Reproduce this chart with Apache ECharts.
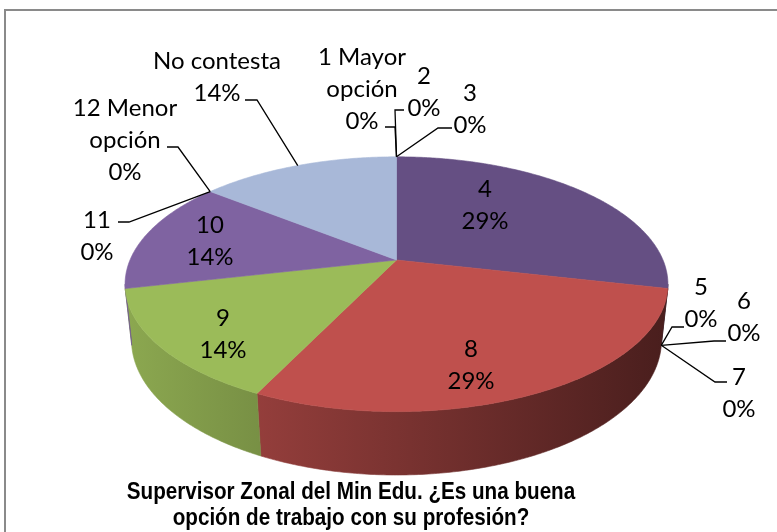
<!DOCTYPE html>
<html>
<head>
<meta charset="utf-8">
<script src="https://cdn.jsdelivr.net/npm/echarts@6/dist/echarts.min.js"></script>
<style>
html,body{margin:0;padding:0;background:#fff;}
#chart{width:777px;height:532px;}
</style>
</head>
<body>
<div id="chart"></div>
<script>
// ---- data ----
const categories = ['1 Mayor opción', '2', '3', '4', '5', '6', '7', '8', '9', '10', '11', '12 Menor opción', 'No contesta'];
const counts = [0, 0, 0, 2, 0, 0, 0, 2, 1, 1, 0, 0, 1];
const titleLines = ['Supervisor Zonal del Min Edu. ¿Es una buena', 'opción de trabajo con su profesión?'];

// ---- styles ----
const sliceColors = ['#4F81BD', '#C0504D', '#9BBB59', '#654F83', '#4BACC6', '#F79646', '#2C4D75',
                     '#BF504D', '#9BBB59', '#7F63A1', '#276A7C', '#B65708', '#A8B8D8'];
const labelFont = '24px Lato, "Open Sans", sans-serif';
// label layout (text centre + leader elbow points); anchor point comes from the pie geometry
const labelLayout = [
  {pos: [362, 89], leader: [[385, 127], [395, 127]]},
  {pos: [424, 92], leader: [[404, 110], [395, 110]]},
  {pos: [470, 109], leader: [[452, 128], [438, 128]]},
  {pos: [485, 205]},
  {pos: [701, 303], leader: [[684, 327], [672, 327]], bottom: true},
  {pos: [744, 317], leader: [[726, 341], [714, 341]], bottom: true},
  {pos: [739, 393], leader: [[727, 382], [715, 382]], bottom: true},
  {pos: [471, 365]},
  {pos: [223, 334]},
  {pos: [210, 241]},
  {pos: [97, 236], leader: [[118, 222], [129, 222]]},
  {pos: [125, 140], leader: [[167, 147], [178, 147]]},
  {pos: [217, 77], leader: [[245, 100], [257, 100]]}
];

// ---- 3D projection of the pie ----
const P = {cx: 396.5, cy: 260, sinP: 0.4608, cosP: 0.8875, D: 4.671, f: 1244.8, h: 0.2385};
function proj(theta, r, Y) {
  const X = r * Math.sin(theta), Z = r * Math.cos(theta);
  const yp = Y * P.cosP + Z * P.sinP;
  const zp = P.D - Y * P.sinP + Z * P.cosP;
  return [P.cx + P.f * X / zp, P.cy - P.f * yp / zp];
}
const total = counts.reduce((a, b) => a + b, 0);
const startAngles = [];
let acc = 0;
counts.forEach(v => { startAngles.push(acc / total * Math.PI * 2); acc += v; });
const thR = Math.acos(-P.cosP / P.D);
const thL = Math.PI * 2 - thR;

function hexToRgb(h) { return [parseInt(h.slice(1,3),16), parseInt(h.slice(3,5),16), parseInt(h.slice(5,7),16)]; }
function shade(h, k) { const c = hexToRgb(h); return 'rgb(' + c.map(v => Math.round(v * k)).join(',') + ')'; }

function renderItem(params, api) {
  const i = params.dataIndex;
  const v = api.value(1);
  const a0 = startAngles[i];
  const a1 = a0 + v / total * Math.PI * 2;
  const children = [];
  const color = sliceColors[i];
  if (v > 0) {
    // top face
    const pts = [[P.cx, P.cy]];
    const n = Math.max(4, Math.ceil((a1 - a0) / 0.01));
    for (let s = 0; s <= n; s++) pts.push(proj(a0 + (a1 - a0) * s / n, 1, 0));
    children.push({type: 'polygon', z2: 10, shape: {points: pts},
      style: {fill: color, stroke: color, lineWidth: 0.6}});
    // side wall
    const w0 = Math.max(a0, thR), w1 = Math.min(a1, thL);
    if (w1 > w0) {
      const wp = [];
      const m = Math.max(4, Math.ceil((w1 - w0) / 0.01));
      for (let s = 0; s <= m; s++) wp.push(proj(w0 + (w1 - w0) * s / m, 1, 0));
      for (let s = m; s >= 0; s--) wp.push(proj(w0 + (w1 - w0) * s / m, 1, -P.h));
      const grad = new echarts.graphic.LinearGradient(125, 0, 668, 0,
        [{offset: 0, color: shade(color, 0.9)}, {offset: 1, color: shade(color, 0.38)}], true);
      children.push({type: 'polygon', z2: 0, shape: {points: wp},
        style: {fill: grad, stroke: grad, lineWidth: 0.6}});
    }
  }
  // label
  const L = labelLayout[i];
  const pct = Math.round(v / total * 100) + '%';
  const name = categories[i].replace(' opción', '\nopción');
  children.push({type: 'text', z2: 30, x: L.pos[0], y: L.pos[1],
    style: {text: name + '\n' + pct, font: labelFont, fill: '#000', align: 'center',
            verticalAlign: 'middle', lineHeight: 32}});
  if (L.leader) {
    const mid = (a0 + a1) / 2;
    const anchor = L.bottom ? proj(mid, 1, -P.h) : proj(mid, 1, 0);
    children.push({type: 'polyline', z2: 25, shape: {points: L.leader.concat([anchor])},
      style: {stroke: '#000', lineWidth: 1.3, fill: null}});
  }
  return {type: 'group', children: children};
}

const chart = echarts.init(document.getElementById('chart'), null, {renderer: 'canvas'});
chart.setOption({
  backgroundColor: '#fff',
  animation: false,
  graphic: [
    {type: 'rect', shape: {x: 5, y: 10, width: 820, height: 600},
     style: {fill: null, stroke: '#8a8a8a', lineWidth: 2}, z: 0},
    {type: 'text', x: 351, y: 492, scaleX: 0.86,
     style: {text: titleLines[0], font: 'bold 24px "Liberation Sans", Arial, sans-serif', fill: '#000',
             align: 'center', verticalAlign: 'middle'}},
    {type: 'text', x: 351, y: 518, scaleX: 0.86,
     style: {text: titleLines[1], font: 'bold 24px "Liberation Sans", Arial, sans-serif', fill: '#000',
             align: 'center', verticalAlign: 'middle'}}
  ],
  series: [{
    type: 'custom',
    coordinateSystem: 'none',
    renderItem: renderItem,
    data: counts.map((v, i) => [i, v])
  }]
});
</script>
</body>
</html>
